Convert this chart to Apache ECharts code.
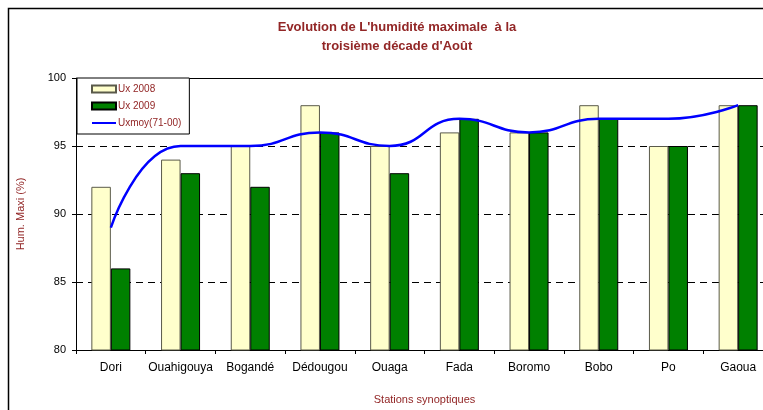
<!DOCTYPE html>
<html>
<head>
<meta charset="utf-8">
<script src="https://cdn.jsdelivr.net/npm/echarts@6/dist/echarts.min.js"></script>
<style>
  html, body { margin: 0; padding: 0; background: #fff; overflow: hidden; }
  /* the original plot runs past the right edge of the picture */
  #chart { width: 790px; height: 410px; }
</style>
</head>
<body>
<div id="chart"></div>
<script>
const stations = ["Dori", "Ouahigouya", "Bogandé", "Dédougou", "Ouaga", "Fada", "Boromo", "Bobo", "Po", "Gaoua"];
const ux2008 = [92, 94, 95, 98, 95, 96, 96, 98, 95, 98];
const ux2009 = [86, 93, 92, 96, 93, 97, 96, 97, 95, 98];
const uxmoy = [89, 95, 95, 96, 95, 97, 96, 97, 97, 98];

const darkRed = "#922626";
const fontFamily = "'Liberation Sans', Arial, sans-serif";

const chart = echarts.init(document.getElementById("chart"));

chart.setOption({
  backgroundColor: "#ffffff",
  animation: false,
  textStyle: { fontFamily: fontFamily },
  title: {
    text: "Evolution de L'humidité maximale  à la\ntroisième décade d'Août",
    left: 392,
    top: 13,
    textAlign: "center",
    textStyle: {
      color: darkRed,
      fontSize: 13,
      fontWeight: "bold",
      lineHeight: 19,
      fontFamily: fontFamily,
    },
  },
  legend: {
    orient: "vertical",
    left: 77,
    top: 78,
    backgroundColor: "#ffffff",
    borderColor: "#000000",
    borderWidth: 1,
    borderRadius: 0,
    padding: [6, 8, 6, 14],
    itemWidth: 24,
    itemHeight: 7,
    itemGap: 7,
    textStyle: { color: darkRed, fontSize: 10, padding: [0, 0, 0, -3] },
    data: [
      { name: "Ux 2008", icon: "rect" },
      { name: "Ux 2009", icon: "rect" },
      { name: "Uxmoy(71-00)", itemStyle: { opacity: 0 } },
    ],
  },
  grid: {
    left: 76,
    right: 17,
    top: 78,
    bottom: 59,
    containLabel: false,
  },
  xAxis: [
    {
      type: "category",
      data: stations,
      name: "Stations synoptiques",
      nameLocation: "middle",
      nameGap: 44,
      nameTextStyle: { color: darkRed, fontSize: 11 },
      axisLine: { lineStyle: { color: "#000000", width: 1 } },
      axisTick: { show: true, interval: 0, length: 4, lineStyle: { color: "#000000" } },
      axisLabel: { color: "#000000", fontSize: 12, margin: 12, interval: 0 },
    },
    {
      type: "category",
      data: stations,
      position: "top",
      axisLine: { show: true, lineStyle: { color: "#000000", width: 1 } },
      axisTick: { show: false },
      axisLabel: { show: false },
    },
  ],
  yAxis: {
    type: "value",
    min: 80,
    max: 100,
    interval: 5,
    name: "Hum. Maxi (%)",
    nameLocation: "middle",
    nameGap: 50,
    nameTextStyle: { color: darkRed, fontSize: 11 },
    axisLine: { show: true, lineStyle: { color: "#000000", width: 1 } },
    axisTick: { show: true, length: 4, lineStyle: { color: "#000000" } },
    axisLabel: { color: "#000000", fontSize: 11, margin: 10 },
    splitLine: {
      show: true,
      lineStyle: { color: "#000000", type: [7, 5], width: 1 },
    },
  },
  graphic: [
    {
      type: "rect",
      shape: { x: 8.5, y: 8.5, width: 800, height: 500 },
      style: { fill: "none", stroke: "#000000", lineWidth: 1.5 },
      silent: true,
      z: 100,
    },
  ],
  series: [
    {
      name: "Ux 2008",
      type: "bar",
      data: ux2008,
      barWidth: 19.5,
      barGap: "0%",
      itemStyle: { color: "#FFFFCC", borderColor: "#5a5a4a", borderWidth: 1 },
    },
    {
      name: "Ux 2009",
      type: "bar",
      data: ux2009,
      barWidth: 19.5,
      barGap: "0%",
      itemStyle: { color: "#008000", borderColor: "#000000", borderWidth: 1 },
    },
    {
      name: "Uxmoy(71-00)",
      type: "line",
      data: uxmoy,
      smooth: true,
      symbol: "none",
      z: 5,
      lineStyle: { color: "#0000FF", width: 2.5 },
      itemStyle: { color: "#0000FF" },
    },
  ],
});
</script>
</body>
</html>
